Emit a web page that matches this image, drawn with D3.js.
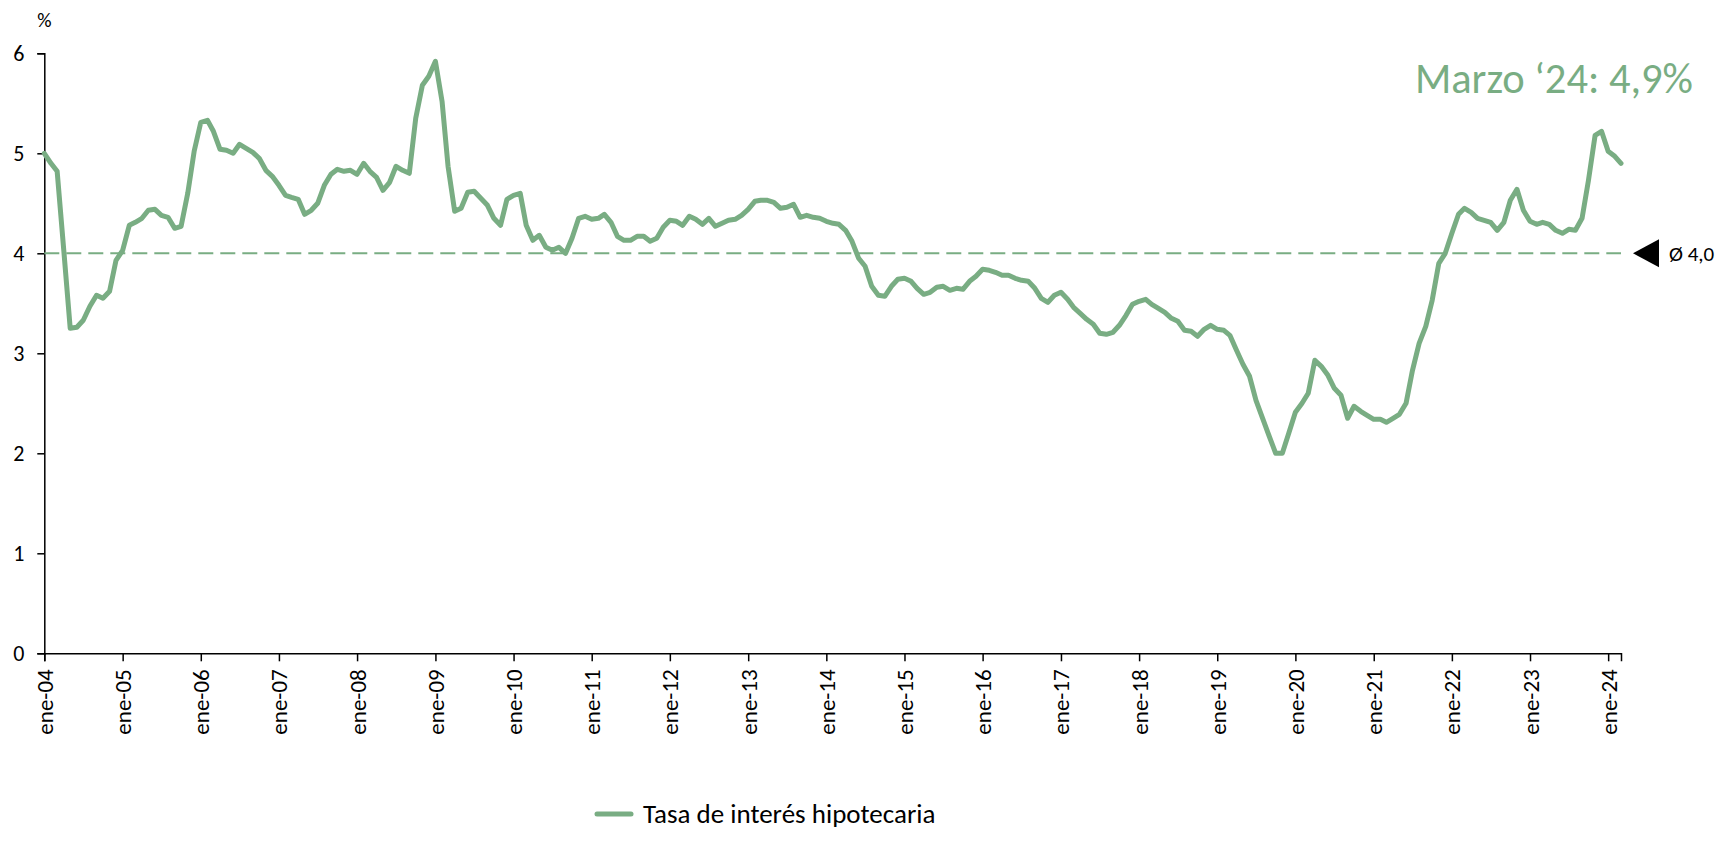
<!DOCTYPE html>
<html>
<head>
<meta charset="utf-8">
<script src="https://cdn.jsdelivr.net/npm/d3@7/dist/d3.min.js"></script>
<style>
  html, body { margin: 0; padding: 0; background: #fff; }
  svg { display: block; font-family: Carlito, Calibri, Lato, sans-serif; }
</style>
</head>
<body>
<svg id="chart" width="1727" height="850"></svg>
<script>
// Monthly mortgage rate, January 2004 – March 2024 (%)
const startMonth = "2004-01";
const rates = [
  5.00, 4.90, 4.82, 4.03, 3.25, 3.26, 3.33, 3.47, 3.58, 3.55, 3.62, 3.93,
  4.03, 4.28, 4.31, 4.35, 4.43, 4.44, 4.38, 4.36, 4.25, 4.27, 4.60, 5.02,
  5.31, 5.33, 5.22, 5.04, 5.03, 5.00, 5.09, 5.05, 5.01, 4.95, 4.83, 4.77,
  4.68, 4.58, 4.56, 4.54, 4.39, 4.43, 4.50, 4.68, 4.79, 4.84, 4.82, 4.83,
  4.79, 4.90, 4.82, 4.76, 4.63, 4.71, 4.87, 4.83, 4.80, 5.35, 5.68, 5.77,
  5.92, 5.52, 4.87, 4.42, 4.45, 4.61, 4.62, 4.55, 4.48, 4.35, 4.28, 4.54,
  4.58, 4.60, 4.28, 4.13, 4.18, 4.06, 4.03, 4.06, 4.00, 4.15, 4.35, 4.37,
  4.34, 4.35, 4.39, 4.31, 4.17, 4.13, 4.13, 4.17, 4.17, 4.12, 4.15, 4.26,
  4.33, 4.32, 4.28, 4.37, 4.34, 4.29, 4.35, 4.27, 4.30, 4.33, 4.34, 4.38,
  4.44, 4.52, 4.53, 4.53, 4.51, 4.45, 4.46, 4.49, 4.36, 4.38, 4.36, 4.35,
  4.32, 4.30, 4.29, 4.23, 4.12, 3.95, 3.87, 3.67, 3.58, 3.57, 3.67, 3.74,
  3.75, 3.72, 3.65, 3.59, 3.61, 3.66, 3.67, 3.63, 3.65, 3.64, 3.72, 3.77,
  3.84, 3.83, 3.81, 3.78, 3.78, 3.75, 3.73, 3.72, 3.65, 3.55, 3.51, 3.58,
  3.61, 3.54, 3.46, 3.40, 3.34, 3.29, 3.20, 3.19, 3.21, 3.28, 3.38, 3.49,
  3.52, 3.54, 3.49, 3.45, 3.41, 3.35, 3.32, 3.23, 3.22, 3.17, 3.24, 3.28,
  3.24, 3.23, 3.18, 3.03, 2.89, 2.77, 2.53, 2.35, 2.17, 2.00, 2.00, 2.20,
  2.41, 2.50, 2.60, 2.93, 2.87, 2.78, 2.65, 2.58, 2.35, 2.47, 2.42, 2.38,
  2.34, 2.34, 2.31, 2.35, 2.39, 2.50, 2.83, 3.10, 3.27, 3.53, 3.90, 4.00,
  4.20, 4.39, 4.45, 4.41, 4.35, 4.33, 4.31, 4.23, 4.31, 4.53, 4.64, 4.43,
  4.32, 4.29, 4.31, 4.29, 4.23, 4.20, 4.24, 4.23, 4.35, 4.73, 5.18, 5.22,
  5.02, 4.97, 4.90
];
const yTicks = [0, 1, 2, 3, 4, 5, 6];
const averageRate = 4.0;
const seriesName = "Tasa de interés hipotecaria";
const unitLabel = "%";
const latestLabel = "Marzo \u201824: 4,9%";
const averageLabel = "\u00D8 4,0";

const green = "#79ad83";
const fontStack = "Carlito, Calibri, Lato, sans-serif";

const es = d3.timeFormatLocale({
  dateTime: "%x, %X", date: "%d/%m/%Y", time: "%H:%M:%S",
  periods: ["AM", "PM"],
  days: ["domingo","lunes","martes","miércoles","jueves","viernes","sábado"],
  shortDays: ["dom","lun","mar","mié","jue","vie","sáb"],
  months: ["enero","febrero","marzo","abril","mayo","junio","julio","agosto","septiembre","octubre","noviembre","diciembre"],
  shortMonths: ["ene","feb","mar","abr","may","jun","jul","ago","sep","oct","nov","dic"]
});
const fmtTick = es.utcFormat("%b-%y");

const start = d3.utcParse("%Y-%m")(startMonth);
const data = rates.map((v, i) => ({ date: d3.utcMonth.offset(start, i), value: v }));

const svg = d3.select("#chart");
const plot = { left: 44.3, right: 1621, top: 53.3, bottom: 653.3 };

const x = d3.scaleUtc()
  .domain([data[0].date, data[data.length - 1].date])
  .range([plot.left, plot.right]);
const y = d3.scaleLinear().domain([0, 6]).range([plot.bottom, plot.top]);

// Y axis
const yAxis = svg.append("g")
  .attr("transform", `translate(${plot.left},0)`)
  .call(d3.axisLeft(y).tickValues(yTicks).tickSize(7).tickPadding(13).tickFormat(d3.format("d")));
yAxis.select(".domain").attr("stroke", "#000").attr("stroke-width", 1.5);
yAxis.selectAll(".tick line").attr("stroke", "#000").attr("stroke-width", 1.5);
yAxis.selectAll(".tick text").attr("font-size", 22).attr("fill", "#000")
  .attr("font-family", fontStack);

svg.append("text")
  .attr("x", 44.5).attr("y", 27)
  .attr("text-anchor", "middle")
  .attr("font-size", 20).attr("fill", "#000")
  .text(unitLabel);

// X axis with January ticks
const xAxis = svg.append("g")
  .attr("transform", `translate(0,${plot.bottom})`)
  .call(d3.axisBottom(x).ticks(d3.utcYear.every(1)).tickSize(8).tickFormat(fmtTick));
xAxis.select(".domain").attr("stroke", "#000").attr("stroke-width", 1.5);
xAxis.selectAll(".tick line").attr("stroke", "#000").attr("stroke-width", 1.5);
xAxis.selectAll(".tick text")
  .attr("font-size", 23).attr("fill", "#000")
  .attr("font-family", fontStack)
  .attr("text-anchor", "end")
  .attr("dy", null)
  .attr("transform", "rotate(-90)")
  .attr("x", -16).attr("y", 0).attr("dominant-baseline", "central");

// Average reference line
svg.append("line")
  .attr("x1", plot.left).attr("x2", plot.right)
  .attr("y1", y(averageRate)).attr("y2", y(averageRate))
  .attr("stroke", green).attr("stroke-width", 2)
  .attr("stroke-dasharray", "15,7");

// Rate line
svg.append("path")
  .datum(data)
  .attr("fill", "none")
  .attr("stroke", green)
  .attr("stroke-width", 5)
  .attr("stroke-linejoin", "round")
  .attr("stroke-linecap", "round")
  .attr("d", d3.line().x(d => x(d.date)).y(d => y(d.value)));

// Average marker and label
const ay = y(averageRate);
svg.append("path")
  .attr("d", `M1633,${ay} L1659,${ay - 14} L1659,${ay + 14} Z`)
  .attr("fill", "#000");
svg.append("text")
  .attr("x", 1669).attr("y", ay + 7.5)
  .attr("font-size", 21).attr("fill", "#000")
  .text(averageLabel);

// Latest value callout
svg.append("text")
  .attr("x", 1693).attr("y", 93)
  .attr("text-anchor", "end")
  .attr("font-size", 42.5).attr("fill", green)
  .text(latestLabel);

// Legend
const legend = svg.append("g").attr("transform", "translate(597,814)");
legend.append("line")
  .attr("x1", 0).attr("x2", 34).attr("y1", 0).attr("y2", 0)
  .attr("stroke", green).attr("stroke-width", 5).attr("stroke-linecap", "round");
legend.append("text")
  .attr("x", 46).attr("y", 8.5)
  .attr("font-size", 27).attr("fill", "#000")
  .text(seriesName);
</script>
</body>
</html>
